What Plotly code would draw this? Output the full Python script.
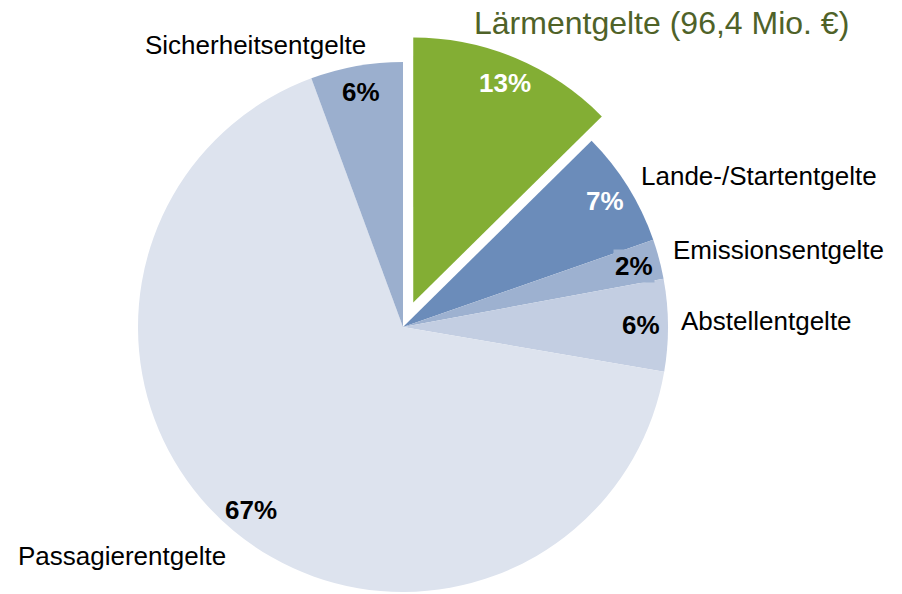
import math
import plotly.graph_objects as go

# Data (Mio. €; Lärmentgelte given as 96,4)
categories = ["Lärmentgelte", "Lande-/Startentgelte", "Emissionsentgelte",
              "Abstellentgelte", "Passagierentgelte", "Sicherheitsentgelte"]
values = [96.4, 54.0, 18.5, 43.0, 510.0, 43.0]
colors = ["#83AE34", "#6B8CBA", "#9DB1D0", "#C3CEE2", "#DDE3EE", "#9BAFCE"]
pct_text_colors = ["white", "white", "black", "black", "black", "black"]
title_text = "Lärmentgelte (96,4 Mio. €)"

W, H = 902, 594
CX, CY, R = 403, 327, 265
PULL = 0.1
FONT = "Liberation Sans, Arial, sans-serif"

total = sum(values)
fracs = [v / total for v in values]
cum = [sum(fracs[:i]) for i in range(len(fracs))]
mids = [(cum[i] + fracs[i] / 2) * 2 * math.pi for i in range(len(fracs))]


def dom(cx, cy, r):
    return dict(x=[(cx - r) / W, (cx + r) / W], y=[1 - (cy + r) / H, 1 - (cy - r) / H])


# pull offset for the first slice (Lärmentgelte)
d = PULL * R
pdx = d * math.sin(mids[0])
pdy = -d * math.cos(mids[0])

base_colors = ["rgba(0,0,0,0)"] + colors[1:]
pulled_colors = [colors[0]] + ["rgba(0,0,0,0)"] * (len(colors) - 1)

fig = go.Figure()
fig.add_trace(go.Pie(labels=categories, values=values, sort=False, direction="clockwise",
                     rotation=0, textinfo="none", marker=dict(colors=base_colors, line=dict(width=0)),
                     domain=dom(CX, CY, R), showlegend=False, hoverinfo="label+percent"))
fig.add_trace(go.Pie(labels=categories, values=values, sort=False, direction="clockwise",
                     rotation=0, textinfo="none", marker=dict(colors=pulled_colors, line=dict(width=0)),
                     domain=dom(CX + pdx, CY + pdy, R), showlegend=False, hoverinfo="label+percent"))

annotations = []
# percentage labels at ~0.9 radius
for i, f in enumerate(fracs):
    rr = 0.9 * R
    ox, oy = (pdx, pdy) if i == 0 else (0, 0)
    px = CX + ox + rr * math.sin(mids[i])
    py = CY + oy - rr * math.cos(mids[i])
    a = dict(x=px / W, y=1 - py / H, xref="paper", yref="paper", showarrow=False,
             xanchor="center", yanchor="middle",
             text="<b>%d%%</b>" % round(f * 100),
             font=dict(family=FONT, size=26, color=pct_text_colors[i]))
    if i == 2:
        a.update(bgcolor=colors[2], borderpad=1)
    annotations.append(a)

# category labels
label_pos = {
    "Lande-/Startentgelte": (759, 176),
    "Emissionsentgelte": (778, 250),
    "Abstellentgelte": (766, 321),
    "Passagierentgelte": (122, 556),
    "Sicherheitsentgelte": (255, 45),
}
for name, (lx, ly) in label_pos.items():
    annotations.append(dict(x=lx / W, y=1 - ly / H, xref="paper", yref="paper", showarrow=False,
                            xanchor="center", yanchor="middle",
                            text=name, font=dict(family=FONT, size=26, color="black")))
annotations.append(dict(x=661 / W, y=1 - 23 / H, xref="paper", yref="paper", showarrow=False,
                        xanchor="center", yanchor="middle",
                        text=title_text, font=dict(family=FONT, size=32, color="#4F6228")))

fig.update_layout(width=W, height=H, margin=dict(l=0, r=0, t=0, b=0),
                  paper_bgcolor="white", plot_bgcolor="white", annotations=annotations)

fig.write_html("out.html", post_script="document.body.style.margin='0px';",
               config={"displayModeBar": False})
